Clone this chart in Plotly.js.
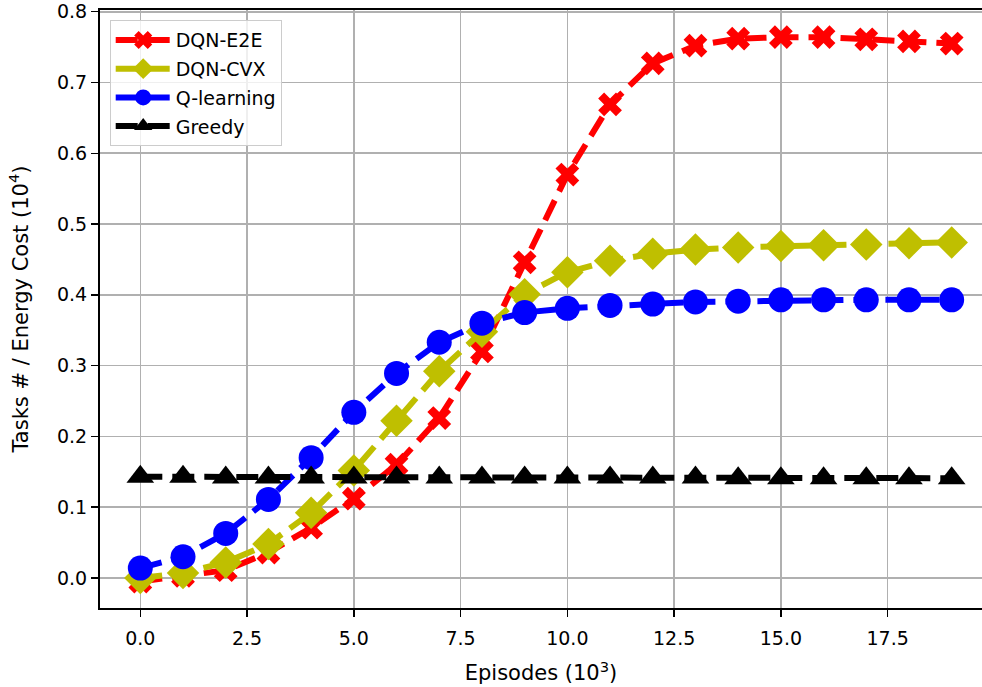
<!DOCTYPE html>
<html>
<head>
<meta charset="utf-8">
<script src="https://cdn.plot.ly/plotly-3.0.1.min.js"></script>
<style>html,body{margin:0;padding:0;background:#fff;}#chart{width:982px;height:687px;}</style>
</head>
<body>
<div id="chart"></div>
<script>
const episodes = [0,1,2,3,4,5,6,7,8,9,10,11,12,13,14,15,16,17,18,19];
const dqnE2E = [-0.005,0.003,0.011,0.036,0.071,0.112,0.160,0.226,0.320,0.446,0.570,0.669,0.727,0.752,0.762,0.764,0.764,0.761,0.758,0.755];
const dqnCVX = [0.000,0.007,0.022,0.048,0.092,0.152,0.222,0.292,0.348,0.401,0.432,0.448,0.458,0.464,0.467,0.469,0.470,0.471,0.473,0.474];
const qLearning = [0.014,0.030,0.063,0.111,0.170,0.234,0.289,0.333,0.360,0.375,0.381,0.385,0.387,0.390,0.391,0.393,0.393,0.393,0.393,0.393];
const greedy = [0.143,0.143,0.142,0.142,0.142,0.142,0.142,0.142,0.142,0.142,0.142,0.142,0.142,0.142,0.141,0.141,0.141,0.141,0.141,0.141];
const seriesNames = ["DQN-E2E","DQN-CVX","Q-learning","Greedy"];
const xTitle = "Episodes (10<sup>3</sup>)";
const yTitle = "Tasks # / Energy Cost (10<sup>4</sup>)";

const FONT = "DejaVu Sans, sans-serif";
function tr(y, name, color, symbol, size, grp) {
  return {
    x: episodes, y: y, name: name, type: "scatter", mode: "lines+markers",
    legendgroup: grp,
    line: {color: color, width: 6, dash: "22px,10px"},
    marker: {color: color, symbol: symbol, size: size, line: {width: 0}}
  };
}
const data = [
  tr(dqnE2E, seriesNames[0], "#ff0000", "x", 21, "a"),
  tr(dqnCVX, seriesNames[1], "#bfbf00", "diamond", 25, "b"),
  tr(qLearning, seriesNames[2], "#0000ff", "circle", 25, "c"),
  tr(greedy, seriesNames[3], "#000000", "triangle-up", 24, "d")
];
const axisCommon = {
  showline: true, linecolor: "#000", linewidth: 2,
  ticks: "outside", ticklen: 7, tickwidth: 1.5, tickcolor: "#000",
  showgrid: true, gridcolor: "#b0b0b0", gridwidth: 1.6,
  zeroline: false, automargin: false, tickfont: {family: FONT, size: 19, color: "#000"}
};
const layout = {
  width: 982, height: 687,
  paper_bgcolor: "#fff", plot_bgcolor: "#fff",
  margin: {l: 100, r: 0, t: 10, b: 79},
  font: {family: FONT, color: "#000"},
  showlegend: true,
  legend: {
    x: 0.011, y: 0.983, xanchor: "left", yanchor: "top",
    bgcolor: "rgba(255,255,255,0.8)", bordercolor: "#cccccc", borderwidth: 1,
    font: {family: FONT, size: 19, color: "#000"},
    itemwidth: 55, tracegroupgap: 1
  },
  xaxis: Object.assign({}, axisCommon, {
    range: [-0.944, 19.71], tick0: 0, dtick: 2.5, tickformat: ".1f", mirror: true,
    ticklabelstandoff: 5,
    title: {text: xTitle, font: {family: FONT, size: 21, color: "#000"}, standoff: 18}
  }),
  yaxis: Object.assign({}, axisCommon, {
    range: [-0.0424, 0.8024], tick0: 0, dtick: 0.1, tickformat: ".1f",
    title: {text: yTitle, font: {family: FONT, size: 21, color: "#000"}, standoff: 23}
  })
};
Plotly.newPlot("chart", data, layout, {displayModeBar: false, staticPlot: true});
</script>
</body>
</html>
